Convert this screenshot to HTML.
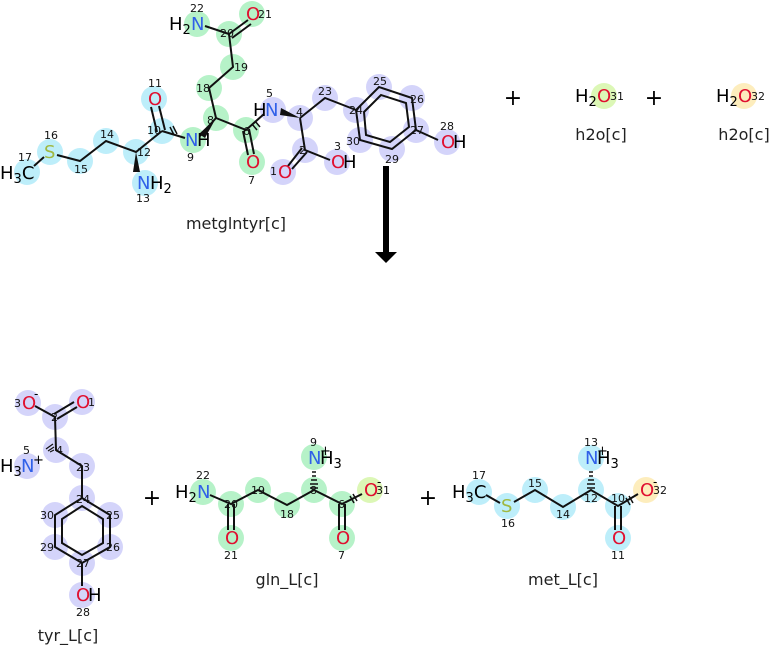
<!DOCTYPE html>
<html><head><meta charset="utf-8"><style>
html,body{margin:0;padding:0;background:#fff;}
svg{display:block;font-family:"DejaVu Sans","Liberation Sans",sans-serif;}
.g{fill:#b6f2c8}.c{fill:#bdeefa}.p{fill:#d4d4fa}.y{fill:#dcf7b6}.o{fill:#fdedbd}
.b{stroke:#111;stroke-width:2;fill:none}
.a{font-size:18px}
.n{font-size:11px;fill:#111}
.N{fill:#3060e8}.O{fill:#e01030}.S{fill:#a0b840}
.l{font-size:16px;fill:#222}
</style></head><body>
<svg width="769" height="646" viewBox="0 0 769 646">
<g>
<circle class="c" cx="27" cy="172" r="13"/><circle class="c" cx="50" cy="152" r="13"/><circle class="c" cx="80" cy="161" r="13"/><circle class="c" cx="106" cy="141" r="13"/><circle class="c" cx="136" cy="152" r="13"/><circle class="c" cx="145" cy="183" r="13"/><circle class="c" cx="162" cy="131" r="13"/><circle class="c" cx="154" cy="99" r="13"/>
<circle class="g" cx="193" cy="140" r="13"/><circle class="g" cx="216" cy="118" r="13"/><circle class="g" cx="209" cy="88" r="13"/><circle class="g" cx="233" cy="67" r="13"/><circle class="g" cx="229" cy="34" r="13"/><circle class="g" cx="252" cy="14" r="13"/><circle class="g" cx="197" cy="24" r="13"/><circle class="g" cx="246" cy="130" r="13"/><circle class="g" cx="252" cy="162" r="13"/>
<circle class="p" cx="273" cy="110" r="13"/><circle class="p" cx="300" cy="118" r="13"/><circle class="p" cx="305" cy="150" r="13"/><circle class="p" cx="283" cy="172" r="13"/><circle class="p" cx="337" cy="162" r="13"/><circle class="p" cx="325" cy="98" r="13"/><circle class="p" cx="356" cy="110" r="13"/><circle class="p" cx="379" cy="87" r="13"/><circle class="p" cx="412" cy="98" r="13"/><circle class="p" cx="416" cy="130" r="13"/><circle class="p" cx="447" cy="142" r="13"/><circle class="p" cx="392" cy="149" r="13"/><circle class="p" cx="360" cy="140" r="13"/>
<circle class="y" cx="604" cy="96" r="13"/><circle class="o" cx="744" cy="96" r="13"/>
</g>
<g class="b">
<path d="M34,166 L44,157 M57,155 L80,161 L106,141 L136,152 L162,131"/>
<path d="M157,132 L151,107 M165,130 L159,106"/>
<path d="M162,131 L185,138"/>
<path d="M200,136 L216,118 L209,88 L233,67 L229,34 L205,26"/>
<path d="M229,34 L248,20 M232,38 L251,24"/>
<path d="M216,118 L246,130 L264,114"/>
<path d="M243,131 L248,155 M249,129 L254,154"/>
<path d="M300,118 L305,150 L330,160 M300,118 L325,98 L356,110"/>
<path d="M302,148 L288,166 M307,152 L292,169"/>
<path d="M356,110 L379,87 L412,98 L416,130 L392,149 L360,140 Z"/>
<path d="M364,112 L381,95 L406,103 L409,127 L390,142 L366,135 Z"/>
<path d="M416,130 L438,140"/>
</g>
<polygon points="136,152 133,172 140,172" fill="#111"/>
<polygon points="216,118 199,134 205,138" fill="#111"/>
<polygon points="300,118 281,108 280,115" fill="#111"/>
<path d="M170,127 L174,135 M173,126 L177,134 M252,124 L257,130 M255,121 L260,127" stroke="#111" stroke-width="1.5"/>
<text class="a" x="0" y="179">H<tspan font-size="13" dy="4">3</tspan><tspan dy="-4">C</tspan></text>
<text class="a S" x="44" y="158">S</text>
<text class="a N" x="137" y="189">N</text><text class="a" x="150" y="189">H<tspan font-size="13" dy="4">2</tspan></text>
<text class="a O" x="148" y="105">O</text>
<text class="a N" x="185" y="146">N</text><text class="a" x="197" y="146">H</text>
<text class="a" x="169" y="30">H<tspan font-size="13" dy="4">2</tspan></text><text class="a N" x="191" y="30">N</text>
<text class="a O" x="246" y="20">O</text>
<text class="a O" x="246" y="168">O</text>
<text class="a" x="253" y="116">H</text><text class="a N" x="265" y="116">N</text>
<text class="a O" x="278" y="178">O</text>
<text class="a O" x="331" y="168">O</text><text class="a" x="343" y="168">H</text>
<text class="a O" x="441" y="148">O</text><text class="a" x="453" y="148">H</text>
<g class="n">
<text x="18" y="161">17</text><text x="44" y="139">16</text><text x="74" y="173">15</text><text x="100" y="138">14</text><text x="137" y="156">12</text><text x="136" y="202">13</text><text x="147" y="134">10</text><text x="148" y="87">11</text><text x="187" y="161">9</text><text x="207" y="124">8</text><text x="196" y="92">18</text><text x="234" y="71">19</text><text x="220" y="37">20</text><text x="258" y="18">21</text><text x="190" y="12">22</text><text x="243" y="135">6</text><text x="248" y="184">7</text><text x="266" y="97">5</text><text x="296" y="116">4</text><text x="299" y="154">2</text><text x="270" y="175">1</text><text x="334" y="150">3</text><text x="318" y="95">23</text><text x="349" y="114">24</text><text x="373" y="85">25</text><text x="410" y="103">26</text><text x="410" y="134">27</text><text x="440" y="130">28</text><text x="385" y="163">29</text><text x="346" y="145">30</text>
</g>
<text class="l" x="236" y="229" text-anchor="middle">metglntyr[c]</text>
<rect x="383" y="166" width="6" height="87" fill="#000"/>
<polygon points="375,252 397,252 386,263" fill="#000"/>
<text x="513" y="105" font-size="22" text-anchor="middle">+</text>
<text class="a" x="575" y="102">H<tspan font-size="13" dy="4">2</tspan></text><text class="a O" x="597" y="102">O</text><text class="n" x="610" y="100">31</text>
<text class="l" x="601" y="140" text-anchor="middle">h2o[c]</text>
<text x="654" y="105" font-size="22" text-anchor="middle">+</text>
<text class="a" x="716" y="102">H<tspan font-size="13" dy="4">2</tspan></text><text class="a O" x="738" y="102">O</text><text class="n" x="751" y="100">32</text>
<text class="l" x="744" y="140" text-anchor="middle">h2o[c]</text>

<g class="p">
<circle cx="28" cy="403" r="13"/><circle cx="82" cy="402" r="13"/><circle cx="55" cy="417" r="13"/><circle cx="56" cy="450" r="13"/><circle cx="27" cy="466" r="13"/><circle cx="82" cy="466" r="13"/><circle cx="82" cy="498" r="13"/><circle cx="110" cy="515" r="13"/><circle cx="110" cy="547" r="13"/><circle cx="82" cy="563" r="13"/><circle cx="82" cy="595" r="13"/><circle cx="55" cy="547" r="13"/><circle cx="55" cy="515" r="13"/>
</g>
<g class="b">
<path d="M35,406 L55,417 L56,450 L82,466 L82,498"/>
<path d="M54,414 L74,402 M57,419 L77,407"/>
<path d="M82,498 L110,515 L110,547 L82,563 L55,547 L55,515 Z"/>
<path d="M82,506 L103,519 L103,543 L82,555 L62,543 L62,519 Z"/>
<path d="M82,563 L82,586"/>
</g>
<path d="M54,450 L50,452 M54,447 L48,451 M53,444 L46,449" stroke="#111" stroke-width="1.2"/>
<text class="a O" x="22" y="409">O</text><text class="n" x="14" y="407">3</text><text x="34" y="398" font-size="12">-</text>
<text class="a O" x="76" y="408">O</text><text class="n" x="88" y="406">1</text>
<text class="a" x="0" y="472">H<tspan font-size="13" dy="4">3</tspan></text><text class="a N" x="21" y="472">N</text><text x="33" y="464" font-size="13">+</text>
<text class="a O" x="76" y="601">O</text><text class="a" x="88" y="601">H</text>
<g class="n"><text x="51" y="421">2</text><text x="23" y="454">5</text><text x="56" y="454">4</text><text x="76" y="471">23</text><text x="76" y="503">24</text><text x="106" y="519">25</text><text x="106" y="551">26</text><text x="76" y="567">27</text><text x="76" y="616">28</text><text x="40" y="551">29</text><text x="40" y="519">30</text></g>
<text class="l" x="68" y="641" text-anchor="middle">tyr_L[c]</text>
<text x="152" y="505" font-size="22" text-anchor="middle">+</text>

<g class="g">
<circle cx="203" cy="492" r="13"/><circle cx="231" cy="504" r="13"/><circle cx="231" cy="538" r="13"/><circle cx="258" cy="490" r="13"/><circle cx="287" cy="505" r="13"/><circle cx="314" cy="490" r="13"/><circle cx="314" cy="457" r="13"/><circle cx="342" cy="504" r="13"/><circle cx="342" cy="538" r="13"/>
</g>
<circle class="y" cx="370" cy="490" r="13"/>
<g class="b">
<path d="M210,495 L231,504 L258,490 L287,505 L314,490 L342,504 L362,494"/>
<path d="M228,504 L228,530 M234,504 L234,530 M339,504 L339,530 M345,504 L345,530"/>
</g>
<path d="M310,488 L318,488 M310,484 L318,484 M311,480 L317,480 M312,476 L316,476 M312,472 L316,472 M350,496 L354,503 M353,494 L357,501" stroke="#111" stroke-width="1.5"/>
<text class="a" x="175" y="498">H<tspan font-size="13" dy="4">2</tspan></text><text class="a N" x="197" y="498">N</text>
<text class="a O" x="225" y="544">O</text><text class="a O" x="336" y="544">O</text>
<text class="a N" x="308" y="464">N</text><text class="a" x="320" y="464">H<tspan font-size="13" dy="4">3</tspan></text><text x="320" y="455" font-size="13">+</text>
<text class="a O" x="364" y="496">O</text><text class="n" x="376" y="494">31</text><text x="377" y="486" font-size="12">-</text>
<g class="n"><text x="196" y="479">22</text><text x="224" y="508">20</text><text x="224" y="559">21</text><text x="251" y="494">19</text><text x="280" y="518">18</text><text x="310" y="494">8</text><text x="310" y="446">9</text><text x="338" y="508">6</text><text x="338" y="559">7</text></g>
<text class="l" x="287" y="585" text-anchor="middle">gln_L[c]</text>
<text x="428" y="505" font-size="22" text-anchor="middle">+</text>

<g class="c">
<circle cx="479" cy="492" r="13"/><circle cx="507" cy="506" r="13"/><circle cx="535" cy="490" r="13"/><circle cx="563" cy="507" r="13"/><circle cx="591" cy="490" r="13"/><circle cx="591" cy="458" r="13"/><circle cx="618" cy="506" r="13"/><circle cx="618" cy="538" r="13"/>
</g>
<circle class="o" cx="646" cy="490" r="13"/>
<g class="b">
<path d="M486,495 L500,503 M514,502 L535,490 L563,507 L591,490 L618,506 L638,494"/>
<path d="M615,506 L615,530 M621,506 L621,530"/>
</g>
<path d="M587,488 L595,488 M587,484 L595,484 M588,480 L594,480 M589,476 L593,476 M589,472 L593,472 M626,498 L630,505 M629,496 L633,503" stroke="#111" stroke-width="1.5"/>
<text class="a" x="452" y="498">H<tspan font-size="13" dy="4">3</tspan><tspan dy="-4">C</tspan></text>
<text class="a S" x="501" y="512">S</text>
<text class="a O" x="612" y="544">O</text>
<text class="a N" x="585" y="464">N</text><text class="a" x="597" y="464">H<tspan font-size="13" dy="4">3</tspan></text><text x="597" y="455" font-size="13">+</text>
<text class="a O" x="640" y="496">O</text><text class="n" x="653" y="494">32</text><text x="653" y="486" font-size="12">-</text>
<g class="n"><text x="472" y="479">17</text><text x="501" y="527">16</text><text x="528" y="487">15</text><text x="556" y="518">14</text><text x="584" y="502">12</text><text x="584" y="446">13</text><text x="611" y="502">10</text><text x="611" y="559">11</text></g>
<text class="l" x="563" y="585" text-anchor="middle">met_L[c]</text>
</svg>
</body></html>
